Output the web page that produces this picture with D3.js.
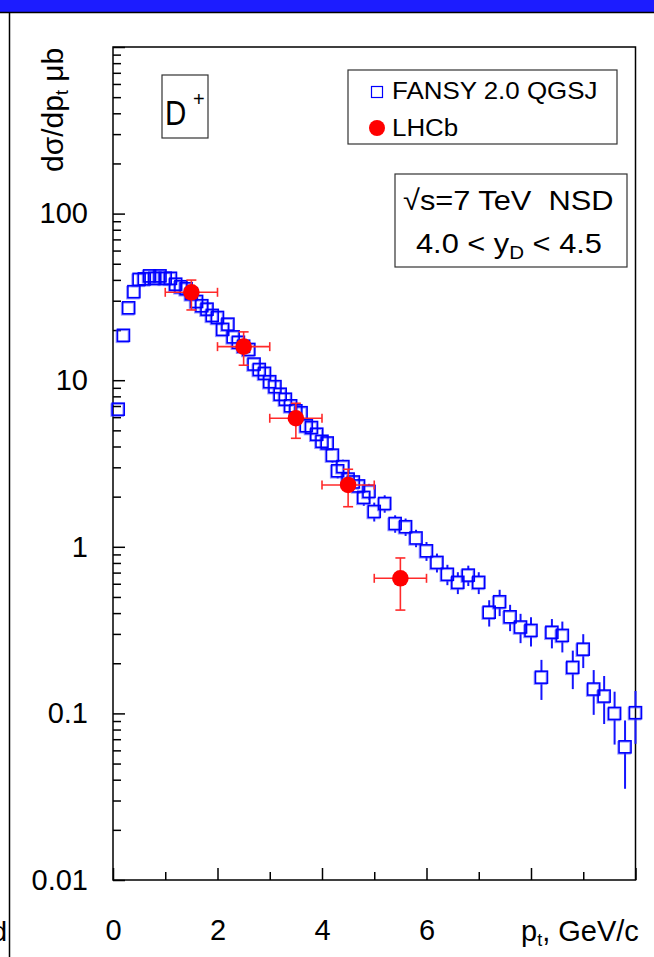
<!DOCTYPE html>
<html>
<head>
<meta charset="utf-8">
<script src="https://cdn.jsdelivr.net/npm/d3@7"></script>
<style>
  body { margin: 0; background: #fff; }
  svg { display: block; }
  text { font-family: "Liberation Sans", Arial, sans-serif; fill: #000; }
</style>
</head>
<body>
<div id="viz"></div>
<script>
const width = 654;
const height = 957;

// FANSY 2.0 QGSJ points (pt in GeV/c, dsigma/dpt in microbarn, relative error)
const fansyPt = [0.1,0.2,0.3,0.4,0.5,0.6,0.7,0.8,0.9,1.0,
                 1.1,1.2,1.3,1.4,1.5,1.6,1.7,1.8,1.9,2.0,
                 2.1,2.2,2.3,2.4,2.5,2.6,2.7,2.8,2.9,3.0,
                 3.1,3.2,3.3,3.4,3.5,3.6,3.7,3.8,3.9,4.0,
                 4.1,4.2,4.3,4.4,4.5,4.6,4.7,4.8,4.9,5.0,
                 5.2,5.4,5.6,5.8,6.0,6.2,6.4,6.6,6.8,7.0,
                 7.2,7.4,7.6,7.8,8.0,8.2,8.4,8.6,8.8,9.0,
                 9.2,9.4,9.6,9.8,10.0];
const fansyVal = [6.7,18.6,27.2,34.0,40.3,40.6,42.3,40.9,42.3,40.9,
                  40.9,37.7,36.4,35.4,33.0,29.7,28.0,26.7,24.5,23.8,
                  20.2,21.7,18.2,16.9,16.0,15.3,12.5,11.6,11.0,9.8,
                  9.15,8.24,7.69,7.02,6.55,6.38,5.33,5.20,4.74,4.3,
                  4.2,3.55,2.86,3.03,2.55,2.45,2.32,1.98,2.15,1.63,
                  1.82,1.38,1.32,1.13,0.946,0.806,0.684,0.612,0.676,0.612,
                  0.405,0.468,0.38,0.33,0.315,0.165,0.307,0.294,0.189,0.243,
                  0.14,0.127,0.10,0.063,0.101];
const fansyErr = [0.03,0.03,0.03,0.03,0.03,0.03,0.03,0.03,0.03,0.03,
                  0.03,0.03,0.03,0.03,0.03,0.03,0.03,0.03,0.03,0.03,
                  0.05,0.05,0.05,0.05,0.05,0.05,0.05,0.05,0.05,0.05,
                  0.08,0.08,0.08,0.08,0.08,0.08,0.09,0.09,0.09,0.09,
                  0.1,0.1,0.1,0.1,0.1,0.1,0.1,0.11,0.11,0.13,
                  0.12,0.12,0.12,0.12,0.13,0.13,0.14,0.15,0.14,0.15,
                  0.18,0.18,0.18,0.2,0.2,0.27,0.2,0.21,0.26,0.23,
                  0.3,0.32,0.35,0.44,0.35];

// LHCb D+ measurement
const lhcbPt = [1.5, 2.5, 3.5, 4.5, 5.5];
const lhcbPtErr = [0.5, 0.5, 0.5, 0.5, 0.5];
const lhcbVal = [33.7, 15.9, 5.91, 2.35, 0.647];
const lhcbErrUp = [6.2, 3.6, 1.36, 0.57, 0.21];
const lhcbErrDn = [7.3, 3.6, 1.43, 0.61, 0.23];

// axis ticks
const xMajor = [0, 2, 4, 6, 8, 10];
const xMinor = [1, 3, 5, 7, 9];
const xTickLabels = ["0", "2", "4", "6", "", ""];
const yTicks = [0.01, 0.1, 1, 10, 100, 1000];
const yTickLabels = ["0.01", "0.1", "1", "10", "100", ""];

const svg = d3.select("#viz").append("svg")
    .attr("width", width)
    .attr("height", height);

// window decoration: blue bar + left border
svg.append("rect")
    .attr("x", 0).attr("y", 0)
    .attr("width", width).attr("height", 12)
    .attr("fill", "#1c1cff");
svg.append("line")
    .attr("x1", 0).attr("x2", width)
    .attr("y1", 12.5).attr("y2", 12.5)
    .attr("stroke", "#000").attr("stroke-width", 1.5);
svg.append("line")
    .attr("x1", 9.5).attr("x2", 9.5)
    .attr("y1", 12).attr("y2", height)
    .attr("stroke", "#000").attr("stroke-width", 1.5);
// letter cut by the left border, as in the source
svg.append("text")
    .attr("x", 7).attr("y", 941)
    .attr("text-anchor", "end")
    .style("font-size", "28px")
    .text("d");

const x = d3.scaleLinear().domain([0, 10]).range([113, 635.5]);
const y = d3.scaleLog().domain([0.01, 1000]).range([880, 47]);

// y axis, ticks pointing inside
const allY = y.ticks();
const minorY = allY.filter(v => !yTicks.some(t => Math.abs(t - v) / t < 1e-6));

function styleAxis(g) {
    g.select(".domain").remove();
    g.selectAll("line").attr("stroke", "#000").attr("stroke-width", 1.5);
    g.selectAll("text")
        .style("font-size", "29px")
        .style("font-family", '"Liberation Sans", Arial, sans-serif')
        .attr("fill", "#000");
}

svg.append("g")
    .attr("transform", "translate(113,0)")
    .call(d3.axisLeft(y).tickValues(minorY).tickSize(-8).tickFormat(""))
    .call(styleAxis);
svg.append("g")
    .attr("transform", "translate(113,0)")
    .call(d3.axisLeft(y).tickValues(yTicks).tickSize(-12).tickPadding(25)
        .tickFormat(d => yTickLabels[yTicks.indexOf(d)]))
    .call(styleAxis);

// x axis
svg.append("g")
    .attr("transform", "translate(0,880)")
    .call(d3.axisBottom(x).tickValues(xMinor).tickSize(-8).tickFormat(""))
    .call(styleAxis);
svg.append("g")
    .attr("transform", "translate(0,880)")
    .call(d3.axisBottom(x).tickValues(xMajor).tickSize(-12).tickPadding(39)
        .tickFormat(d => xTickLabels[xMajor.indexOf(d)]))
    .call(styleAxis);

// frame
svg.append("rect")
    .attr("x", x(0)).attr("y", y(1000))
    .attr("width", x(10) - x(0)).attr("height", y(0.01) - y(1000))
    .attr("fill", "none")
    .attr("stroke", "#000").attr("stroke-width", 1.5);

// axis titles
const yTitle = svg.append("text")
    .attr("transform", "translate(63,172) rotate(-90)")
    .style("font-size", "30px");
yTitle.append("tspan").text("dσ/dp");
yTitle.append("tspan").attr("dy", 5).style("font-size", "18px").text("t");
yTitle.append("tspan").attr("dy", -5).text(" μb");

const xTitle = svg.append("text")
    .attr("x", 521).attr("y", 941)
    .style("font-size", "29px");
xTitle.append("tspan").text("p");
xTitle.append("tspan").attr("dy", 5).style("font-size", "18px").text("t");
xTitle.append("tspan").attr("dy", -5).text(", GeV/c");

// FANSY points
const half = 6;
const fansy = fansyPt.map((p, i) => ({ pt: p, v: fansyVal[i], e: fansyErr[i] }));

const gF = svg.append("g");
fansy.forEach(d => {
    const cx = x(d.pt), cy = y(d.v);
    const top = y(d.v * (1 + d.e)), bot = y(d.v * (1 - d.e));
    if (top < cy - half) {
        gF.append("line").attr("x1", cx).attr("x2", cx).attr("y1", top).attr("y2", cy - half)
            .attr("stroke", "#1515ff").attr("stroke-width", 2);
    }
    if (bot > cy + half) {
        gF.append("line").attr("x1", cx).attr("x2", cx).attr("y1", cy + half).attr("y2", bot)
            .attr("stroke", "#1515ff").attr("stroke-width", 2);
    }
});
gF.selectAll("rect.shadow")
    .data(fansy)
    .join("rect")
    .attr("class", "shadow")
    .attr("x", d => x(d.pt) - half - 1)
    .attr("y", d => y(d.v) - half + 1)
    .attr("width", half * 2).attr("height", half * 2)
    .attr("fill", "none")
    .attr("stroke", "rgba(70,70,255,0.55)").attr("stroke-width", 1.6);
gF.selectAll("rect.mark")
    .data(fansy)
    .join("rect")
    .attr("class", "mark")
    .attr("x", d => x(d.pt) - half)
    .attr("y", d => y(d.v) - half)
    .attr("width", half * 2).attr("height", half * 2)
    .attr("fill", "none")
    .attr("stroke", "#0000ff").attr("stroke-width", 1.6);

// LHCb points
const lhcb = lhcbPt.map((p, i) => ({
    pt: p, ex: lhcbPtErr[i], v: lhcbVal[i], up: lhcbErrUp[i], dn: lhcbErrDn[i]
}));
const gL = svg.append("g").attr("stroke", "#ff2a2a").attr("stroke-width", 1.6);
lhcb.forEach(d => {
    const cx = x(d.pt), cy = y(d.v);
    const x0 = x(d.pt - d.ex), x1 = x(d.pt + d.ex);
    const y0 = y(d.v + d.up), y1 = y(d.v - d.dn);
    gL.append("line").attr("x1", x0).attr("x2", x1).attr("y1", cy).attr("y2", cy);
    gL.append("line").attr("x1", x0).attr("x2", x0).attr("y1", cy - 4.5).attr("y2", cy + 4.5);
    gL.append("line").attr("x1", x1).attr("x2", x1).attr("y1", cy - 4.5).attr("y2", cy + 4.5);
    gL.append("line").attr("x1", cx).attr("x2", cx).attr("y1", y0).attr("y2", y1);
    gL.append("line").attr("x1", cx - 5).attr("x2", cx + 5).attr("y1", y0).attr("y2", y0);
    gL.append("line").attr("x1", cx - 5).attr("x2", cx + 5).attr("y1", y1).attr("y2", y1);
});
svg.append("g").selectAll("circle")
    .data(lhcb)
    .join("circle")
    .attr("cx", d => x(d.pt))
    .attr("cy", d => y(d.v))
    .attr("r", 8.3)
    .attr("fill", "#ff0000");

// D+ label box
svg.append("rect")
    .attr("x", 162).attr("y", 75).attr("width", 46).attr("height", 63)
    .attr("fill", "#fff").attr("stroke", "#333").attr("stroke-width", 1.2);
svg.append("text")
    .attr("transform", "translate(165,125) scale(0.82,1)")
    .style("font-size", "36px")
    .text("D");
svg.append("text")
    .attr("x", 193).attr("y", 106)
    .style("font-size", "20px")
    .text("+");

// legend
svg.append("rect")
    .attr("x", 348).attr("y", 70).attr("width", 269).attr("height", 74)
    .attr("fill", "#fff").attr("stroke", "#333").attr("stroke-width", 1.2);
svg.append("rect")
    .attr("x", 371.5).attr("y", 86.5).attr("width", 11).attr("height", 11)
    .attr("fill", "none").attr("stroke", "#0000ff").attr("stroke-width", 1.2);
svg.append("circle")
    .attr("cx", 377).attr("cy", 128).attr("r", 8)
    .attr("fill", "#ff0000");
svg.append("text")
    .attr("transform", "translate(392,99) scale(1.08,1)")
    .style("font-size", "24px")
    .text("FANSY 2.0 QGSJ");
svg.append("text")
    .attr("transform", "translate(392,136) scale(1.08,1)")
    .style("font-size", "24px")
    .text("LHCb");

// energy / rapidity box
svg.append("rect")
    .attr("x", 395).attr("y", 174).attr("width", 232).attr("height", 93)
    .attr("fill", "#fff").attr("stroke", "#333").attr("stroke-width", 1.2);
svg.append("text")
    .attr("transform", "translate(403,210) scale(1.08,1)")
    .style("font-size", "28.5px")
    .style("white-space", "pre")
    .text("√s=7 TeV  NSD");
const rap = svg.append("text")
    .attr("transform", "translate(416,253) scale(1.08,1)")
    .style("font-size", "28.5px")
    .style("white-space", "pre");
rap.append("tspan").text("4.0 < y");
rap.append("tspan").attr("dy", 6).style("font-size", "19px").text("D");
rap.append("tspan").attr("dy", -6).text(" < 4.5");
</script>
</body>
</html>
